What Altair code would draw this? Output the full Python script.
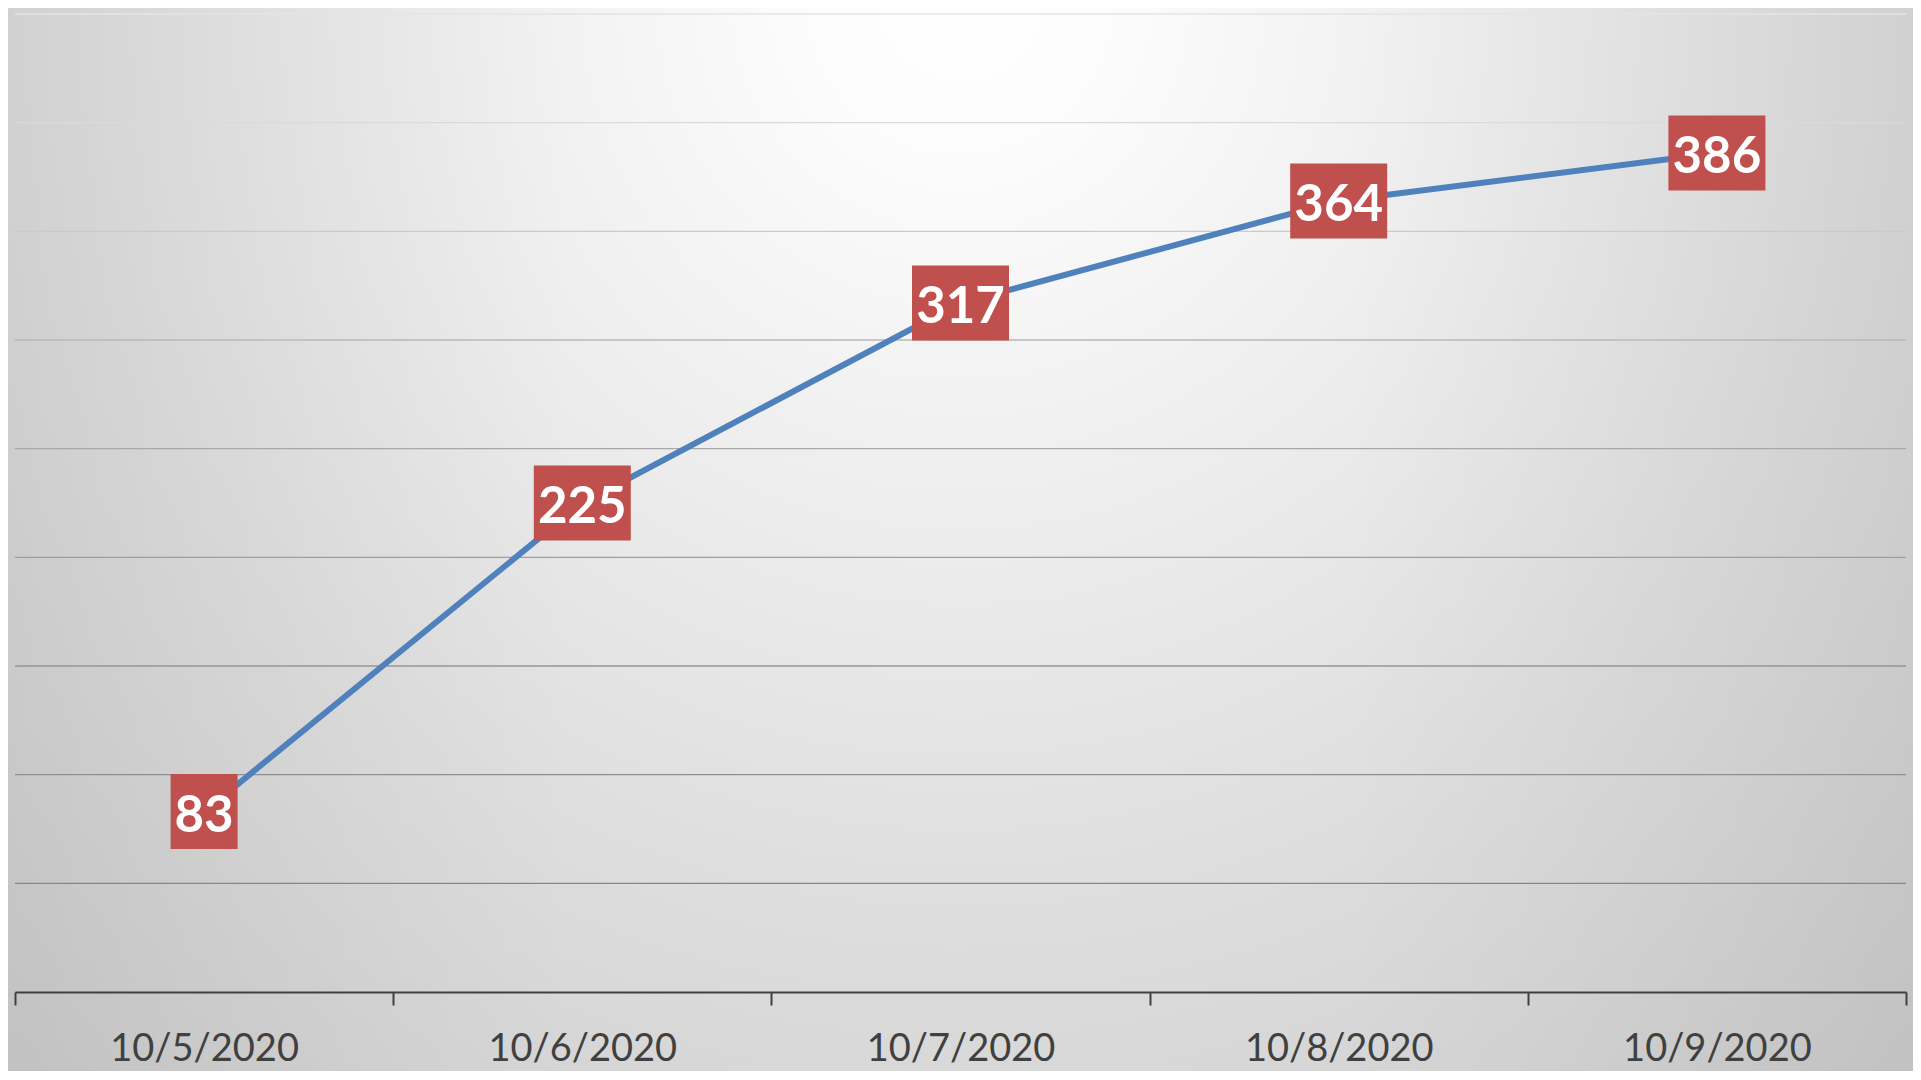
import altair as alt
import pandas as pd

# ---- data ----
DATES = ["10/5/2020", "10/6/2020", "10/7/2020", "10/8/2020", "10/9/2020"]
VALUES = [83, 225, 317, 364, 386]
GRID_VALUES = [50, 100, 150, 200, 250, 300, 350, 400, 450]

# ---- styles ----
GRID_COLORS = ["#868686", "#8e8e8e", "#969696", "#9e9e9e", "#a8a8a8",
               "#b8b8b8", "#cacaca", "#dadada", "#e4e4e4"]
LINE_COLOR = "#4F81BD"
BOX_COLOR = "#C0504D"
AXIS_COLOR = "#404040"

W, H = 1891, 978
PAD = {"left": 7, "right": 7, "top": 6, "bottom": 79}
SVG_W = W + PAD["left"] + PAD["right"]

df = pd.DataFrame({"date": DATES, "value": VALUES})
df["digits"] = df["value"].astype(str).str.len().astype(str)
grid_df = pd.DataFrame({"g": GRID_VALUES})
one = pd.DataFrame({"a": [0]})

x_enc = alt.X(
    "date:N", sort=None,
    scale=alt.Scale(paddingInner=0, paddingOuter=0),
    axis=alt.Axis(title=None, labelAngle=0, tickBand="extent", grid=False,
                  domainColor=AXIS_COLOR, domainWidth=2,
                  tickColor=AXIS_COLOR, tickWidth=2, tickSize=13,
                  labelFont="Lato", labelFontSize=38, labelColor=AXIS_COLOR,
                  labelPadding=25, labelLimit=0, labelOverlap=False, zindex=1),
)
y_scale = alt.Scale(domain=[0, 450], nice=False, zero=True)

# background: radial gradient (white at top centre) on a square rect
cx = (960 - 8) / SVG_W
cy = (0 - 8) / SVG_W
R = 1500 / SVG_W
radial = alt.RadialGradient(
    gradient="radial", x1=cx, y1=cy, r1=0, x2=cx, y2=cy, r2=R,
    stops=[
        alt.GradientStop(offset=0.0, color="#ffffff"),
        alt.GradientStop(offset=0.1, color="#fcfcfc"),
        alt.GradientStop(offset=0.6, color="#dedede"),
        alt.GradientStop(offset=0.967, color="#cbcbcb"),
        alt.GradientStop(offset=1.0, color="#c9c9c9"),
    ],
)
bg = alt.Chart(one).mark_rect(fill=radial, strokeWidth=0).encode(
    x=alt.value(-PAD["left"]), x2=alt.value(-PAD["left"] + SVG_W),
    y=alt.value(-PAD["top"]), y2=alt.value(-PAD["top"] + SVG_W),
)
side = alt.LinearGradient(
    gradient="linear", x1=0, y1=0, x2=1, y2=0,
    stops=[
        alt.GradientStop(offset=0.0, color="rgba(0,0,0,0.05)"),
        alt.GradientStop(offset=0.3, color="rgba(0,0,0,0)"),
        alt.GradientStop(offset=0.7, color="rgba(0,0,0,0)"),
        alt.GradientStop(offset=1.0, color="rgba(0,0,0,0.05)"),
    ],
)
overlay = alt.Chart(one).mark_rect(fill=side, strokeWidth=0).encode(
    x=alt.value(-PAD["left"]), x2=alt.value(-PAD["left"] + SVG_W),
    y=alt.value(-PAD["top"]), y2=alt.value(H + PAD["bottom"]),
)

grid = alt.Chart(grid_df).mark_rule(strokeWidth=1.3).encode(
    y=alt.Y("g:Q", scale=y_scale, axis=None),
    color=alt.Color("g:O", scale=alt.Scale(domain=GRID_VALUES, range=GRID_COLORS), legend=None),
)

base = alt.Chart(df).encode(x=x_enc, y=alt.Y("value:Q", scale=y_scale, axis=None))

line = base.mark_line(color=LINE_COLOR, strokeWidth=6)

PATH2 = "M-0.67,-0.75L0.67,-0.75L0.67,0.75L-0.67,0.75Z"
PATH3 = "M-0.97,-0.75L0.97,-0.75L0.97,0.75L-0.97,0.75Z"
boxes = base.mark_point(filled=True, opacity=1, size=10000, color=BOX_COLOR, strokeWidth=0).encode(
    shape=alt.Shape("digits:N", scale=alt.Scale(domain=["2", "3"], range=[PATH2, PATH3]), legend=None)
)

labels = base.mark_text(font="Lato", fontWeight="bold", fontSize=51, color="white",
                        baseline="middle", align="center", dy=5).encode(text="value:Q")

chart = alt.layer(bg, overlay, grid, line, boxes, labels).properties(
    width=W, height=H,
    autosize=alt.AutoSizeParams(type="none"),
    padding=PAD,
).configure_view(strokeWidth=0).configure(background="#d0d0d0")

chart.save("out.html", embed_options={"renderer": "svg", "actions": False})
